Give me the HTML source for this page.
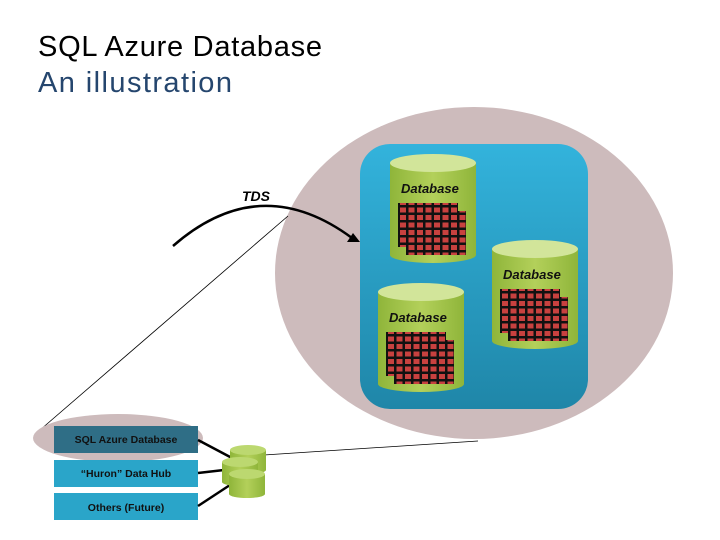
<!DOCTYPE html>
<html><head><style>body{margin:0;background:#fff}svg{display:block}</style></head><body>
<svg width="720" height="540" viewBox="0 0 720 540" xmlns="http://www.w3.org/2000/svg">
<defs>
<linearGradient id="blue" x1="0" y1="0" x2="0" y2="1"><stop offset="0" stop-color="#33b3dc"/><stop offset="1" stop-color="#1f86a8"/></linearGradient>
<linearGradient id="cyl" x1="0" y1="0" x2="1" y2="0"><stop offset="0" stop-color="#8fb53a"/><stop offset="0.5" stop-color="#b3d05a"/><stop offset="1" stop-color="#8fb53a"/></linearGradient>
<pattern id="grid" width="8.5" height="7.5" patternUnits="userSpaceOnUse"><rect width="8.5" height="7.5" fill="#111"/><rect x="1.5" y="1" width="6" height="5" fill="#c8413f"/></pattern>
<g id="db">
<rect x="0" y="9" width="86" height="92" fill="url(#cyl)"/>
<ellipse cx="43" cy="101" rx="43" ry="8" fill="url(#cyl)"/>
<ellipse cx="43" cy="9" rx="43" ry="9" fill="#d2e59a"/>
<text x="11" y="39" font-family="Liberation Sans, sans-serif" font-size="13" font-weight="bold" font-style="italic" fill="#111">Database</text>
<rect x="8" y="49" width="60" height="44" fill="url(#grid)"/>
<rect x="16" y="57" width="60" height="44" fill="url(#grid)"/>
</g>
<g id="sc">
<rect x="0" y="5" width="36" height="20" fill="url(#cyl)"/>
<ellipse cx="18" cy="25" rx="18" ry="4" fill="url(#cyl)"/>
<ellipse cx="18" cy="5" rx="18" ry="5" fill="#bcd870"/>
</g>
</defs>
<text x="38" y="56" font-family="Liberation Sans, sans-serif" font-size="29" fill="#000" textLength="284">SQL Azure Database</text>
<text x="38" y="92" font-family="Liberation Sans, sans-serif" font-size="29" fill="#25466e" textLength="194">An illustration</text>
<ellipse cx="474" cy="273" rx="199" ry="166" fill="#cdbbbc"/>
<rect x="360" y="144" width="228" height="265" rx="30" fill="url(#blue)"/>
<use href="#db" x="390" y="154"/>
<use href="#db" x="492" y="240"/>
<use href="#db" x="378" y="283"/>
<line x1="40" y1="430" x2="288" y2="216" stroke="#000" stroke-width="0.8"/>
<line x1="264" y1="455" x2="478" y2="441" stroke="#000" stroke-width="0.8"/>
<path d="M173 246 Q260 170 352 238" fill="none" stroke="#000" stroke-width="2.5"/>
<path d="M360 242 L347 242 L353 233 Z" fill="#000"/>
<text x="242" y="201" font-family="Liberation Sans, sans-serif" font-size="14" font-style="italic" font-weight="bold" fill="#000">TDS</text>
<ellipse cx="118" cy="438" rx="85" ry="24" fill="#cdbbbc"/>
<rect x="54" y="426" width="144" height="27" fill="#2f6e86"/>
<rect x="54" y="460" width="144" height="27" fill="#2aa5c9"/>
<rect x="54" y="493" width="144" height="27" fill="#2aa5c9"/>
<g font-family="Liberation Sans, sans-serif" font-size="10.5" fill="#111" text-anchor="middle" font-weight="bold">
<text x="126" y="443">SQL Azure Database</text>
<text x="126" y="477">“Huron” Data Hub</text>
<text x="126" y="511">Others (Future)</text>
</g>
<g stroke="#000" stroke-width="2.5">
<line x1="198" y1="440" x2="232" y2="458"/>
<line x1="198" y1="473" x2="224" y2="470"/>
<line x1="198" y1="506" x2="230" y2="485"/>
</g>
<use href="#sc" x="230" y="445"/>
<use href="#sc" x="222" y="457"/>
<use href="#sc" x="229" y="469"/>
</svg>
</body></html>
